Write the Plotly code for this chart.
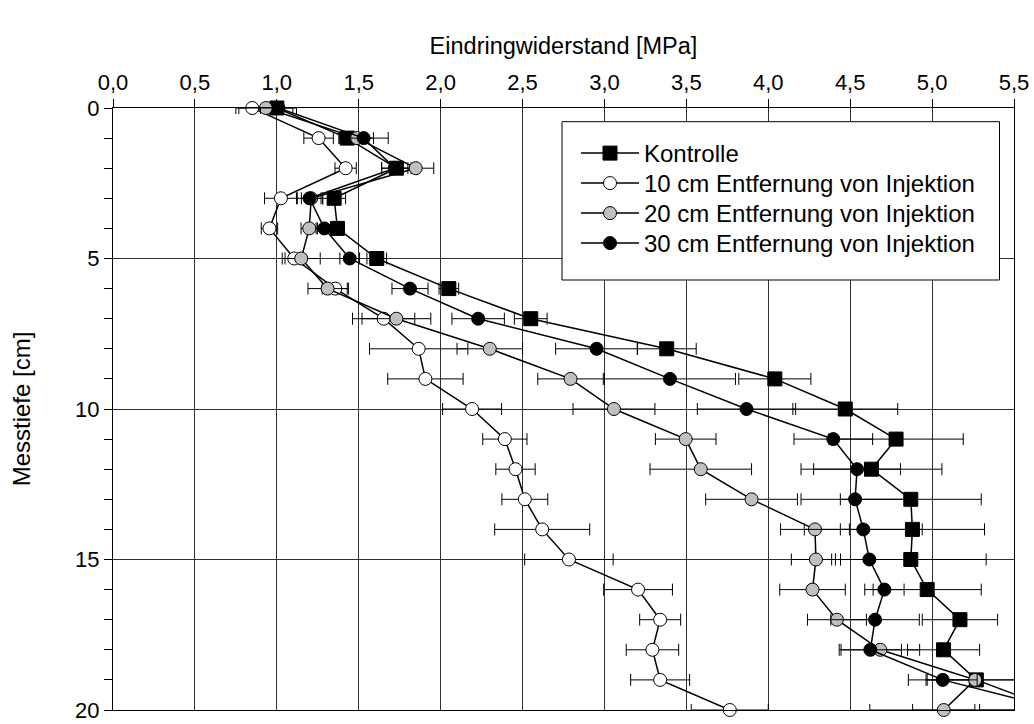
import plotly.graph_objects as go

depth = list(range(21))

kontrolle = [1.00, 1.43, 1.73, 1.35, 1.37, 1.61, 2.05, 2.55, 3.38, 4.04, 4.47,
             4.78, 4.63, 4.87, 4.88, 4.87, 4.97, 5.17, 5.07, 5.27, 5.76]
kontrolle_sd = [0.04, 0.05, 0.09, 0.07, 0.04, 0.06, 0.06, 0.10, 0.18, 0.22, 0.32,
                0.41, 0.43, 0.43, 0.44, 0.46, 0.33, 0.23, 0.22, 0.30, 1.14]

cm10 = [0.85, 1.255, 1.42, 1.025, 0.955, 1.106, 1.357, 1.652, 1.866, 1.907, 2.192,
        2.392, 2.457, 2.514, 2.62, 2.783, 3.205, 3.34, 3.293, 3.34, 3.765]
cm10_sd = [0.10, 0.09, 0.065, 0.10, 0.05, 0.056, 0.08, 0.19, 0.30, 0.23, 0.18,
           0.135, 0.12, 0.14, 0.29, 0.27, 0.21, 0.125, 0.16, 0.18, 0.235]

cm20 = [0.933, 1.49, 1.848, 1.21, 1.198, 1.149, 1.31, 1.73, 2.30, 2.793, 3.058,
        3.496, 3.588, 3.898, 4.285, 4.291, 4.27, 4.419, 4.684, 5.263, 5.071]
cm20_sd = [0.165, 0.10, 0.11, 0.06, 0.05, 0.116, 0.12, 0.21, 0.20, 0.20, 0.25,
           0.185, 0.31, 0.28, 0.21, 0.15, 0.20, 0.18, 0.24, 0.30, 0.19]

cm30 = [1.01, 1.53, 1.72, 1.20, 1.29, 1.445, 1.813, 2.229, 2.952, 3.40, 3.867,
        4.397, 4.542, 4.53, 4.58, 4.617, 4.709, 4.652, 4.623, 5.065, 5.79]
cm30_sd = [0.11, 0.15, 0.08, 0.08, 0.05, 0.06, 0.11, 0.16, 0.25, 0.40, 0.30,
           0.24, 0.265, 0.33, 0.36, 0.23, 0.12, 0.27, 0.19, 0.21, 0.50]

series_names = ["Kontrolle", "10 cm Entfernung von Injektion",
                "20 cm Entfernung von Injektion", "30 cm Entfernung von Injektion"]

x_tickvals = [0, 0.5, 1.0, 1.5, 2.0, 2.5, 3.0, 3.5, 4.0, 4.5, 5.0, 5.5]
x_ticktext = ["0,0", "0,5", "1,0", "1,5", "2,0", "2,5", "3,0", "3,5", "4,0", "4,5", "5,0", "5,5"]
y_tickvals = [0, 5, 10, 15, 20]
y_ticktext = ["0", "5", "10", "15", "20"]

FONT = "Liberation Sans, Arial, sans-serif"

# plot area in pixels
L, T, W, H = 113, 108, 901, 602

styles = [
    dict(symbol="square", size=14, color="black"),
    dict(symbol="circle", size=13, color="white"),
    dict(symbol="circle", size=13, color="#c0c0c0"),
    dict(symbol="circle", size=13, color="black"),
]
legend_ids = ["legend", "legend2", "legend3", "legend4"]
legend_rows_px = [153.5, 183.5, 213.5, 243.5]

fig = go.Figure()
for name, vals, sd, st, lid in zip(series_names, [kontrolle, cm10, cm20, cm30],
                                   [kontrolle_sd, cm10_sd, cm20_sd, cm30_sd], styles, legend_ids):
    fig.add_trace(go.Scatter(
        x=vals, y=depth, name=name, mode="lines+markers",
        line=dict(color="black", width=1.5),
        marker=dict(symbol=st["symbol"], size=st["size"], color=st["color"],
                    line=dict(color="black", width=1)),
        error_x=dict(type="data", array=sd, visible=True, color="black",
                     thickness=1, width=6),
        cliponaxis=False,
        legend=lid,
    ))

# legend frame (white box)
fig.add_shape(type="rect", xref="paper", yref="paper",
              x0=(562 - L) / W, x1=(999.5 - L) / W,
              y0=1 - (280 - T) / H, y1=1 - (121.7 - T) / H,
              line=dict(color="black", width=1), fillcolor="white", layer="above")

legend_common = dict(xanchor="left", yanchor="middle", bgcolor="rgba(0,0,0,0)", borderwidth=0,
                     font=dict(family=FONT, size=24, color="black"), itemwidth=58)
legends = {}
for lid, row in zip(legend_ids, legend_rows_px):
    legends[lid] = dict(x=(576 - L) / W, y=1 - (row - T) / H, **legend_common)

fig.update_layout(
    width=1034, height=724,
    template="none",
    paper_bgcolor="white", plot_bgcolor="white",
    margin=dict(l=L, r=1034 - L - W, t=T, b=724 - T - H, pad=0),
    font=dict(family=FONT, size=22, color="black"),
    showlegend=True,
    **legends,
    xaxis=dict(
        side="top", range=[0, 5.5], tickmode="array",
        tickvals=x_tickvals, ticktext=x_ticktext,
        ticks="outside", ticklen=8, tickwidth=1, tickcolor="black",
        showgrid=True, gridcolor="#303030", gridwidth=1,
        showline=True, linecolor="black", linewidth=1, mirror=True,
        zeroline=False, automargin=False,
        tickfont=dict(family=FONT, size=22),
        title=dict(text="Eindringwiderstand [MPa]", font=dict(family=FONT, size=23.5), standoff=8),
    ),
    yaxis=dict(
        range=[20, 0], tickmode="array",
        tickvals=y_tickvals, ticktext=y_ticktext,
        ticks="outside", ticklen=8, tickwidth=1, tickcolor="black",
        minor=dict(dtick=1, tick0=0, ticks="outside", ticklen=8, tickwidth=1,
                   tickcolor="black", showgrid=False),
        showgrid=True, gridcolor="#303030", gridwidth=1,
        showline=True, linecolor="black", linewidth=1, mirror=True,
        zeroline=False, automargin=False,
        tickfont=dict(family=FONT, size=22),
        title=dict(text="Messtiefe [cm]", font=dict(family=FONT, size=24), standoff=37),
    ),
)

fig.write_html("out.html")
